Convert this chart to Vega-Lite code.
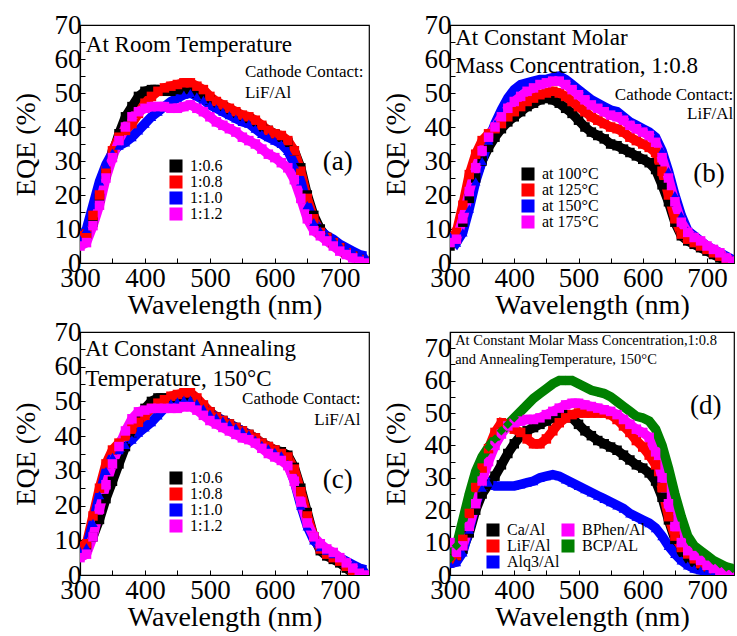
{
"$schema":"https://vega.github.io/schema/vega-lite/v6.json",
"background":"white",
"padding":{"left":11,"top":10,"right":0,"bottom":0},
"datasets":{"d":[
{"p":"a","s":"1:0.6","x":300,"y":8},{"p":"a","s":"1:0.6","x":310,"y":8.5},{"p":"a","s":"1:0.6","x":320,"y":12},{"p":"a","s":"1:0.6","x":330,"y":19},{"p":"a","s":"1:0.6","x":340,"y":26},{"p":"a","s":"1:0.6","x":350,"y":32},{"p":"a","s":"1:0.6","x":360,"y":38},{"p":"a","s":"1:0.6","x":370,"y":43},{"p":"a","s":"1:0.6","x":380,"y":46},{"p":"a","s":"1:0.6","x":390,"y":49},{"p":"a","s":"1:0.6","x":400,"y":50.5},{"p":"a","s":"1:0.6","x":410,"y":51},{"p":"a","s":"1:0.6","x":420,"y":51},{"p":"a","s":"1:0.6","x":430,"y":50.5},{"p":"a","s":"1:0.6","x":440,"y":50.5},{"p":"a","s":"1:0.6","x":450,"y":51},{"p":"a","s":"1:0.6","x":460,"y":51},{"p":"a","s":"1:0.6","x":470,"y":51.5},{"p":"a","s":"1:0.6","x":480,"y":50},{"p":"a","s":"1:0.6","x":490,"y":49},{"p":"a","s":"1:0.6","x":500,"y":48},{"p":"a","s":"1:0.6","x":510,"y":47},{"p":"a","s":"1:0.6","x":520,"y":46},{"p":"a","s":"1:0.6","x":530,"y":45},{"p":"a","s":"1:0.6","x":540,"y":44},{"p":"a","s":"1:0.6","x":550,"y":43},{"p":"a","s":"1:0.6","x":560,"y":42.5},{"p":"a","s":"1:0.6","x":570,"y":41.5},{"p":"a","s":"1:0.6","x":580,"y":40},{"p":"a","s":"1:0.6","x":590,"y":39},{"p":"a","s":"1:0.6","x":600,"y":38},{"p":"a","s":"1:0.6","x":610,"y":37},{"p":"a","s":"1:0.6","x":620,"y":35.5},{"p":"a","s":"1:0.6","x":630,"y":33},{"p":"a","s":"1:0.6","x":640,"y":28},{"p":"a","s":"1:0.6","x":650,"y":20},{"p":"a","s":"1:0.6","x":660,"y":14},{"p":"a","s":"1:0.6","x":670,"y":10},{"p":"a","s":"1:0.6","x":680,"y":7.5},{"p":"a","s":"1:0.6","x":690,"y":6},{"p":"a","s":"1:0.6","x":700,"y":4.5},{"p":"a","s":"1:0.6","x":710,"y":3},{"p":"a","s":"1:0.6","x":720,"y":2},{"p":"a","s":"1:0.6","x":730,"y":1},{"p":"a","s":"1:0.6","x":740,"y":0.5},
{"p":"a","s":"1:0.8","x":300,"y":8},{"p":"a","s":"1:0.8","x":310,"y":8.5},{"p":"a","s":"1:0.8","x":320,"y":14},{"p":"a","s":"1:0.8","x":330,"y":20},{"p":"a","s":"1:0.8","x":340,"y":27},{"p":"a","s":"1:0.8","x":350,"y":33},{"p":"a","s":"1:0.8","x":360,"y":37},{"p":"a","s":"1:0.8","x":370,"y":39},{"p":"a","s":"1:0.8","x":380,"y":41},{"p":"a","s":"1:0.8","x":390,"y":44},{"p":"a","s":"1:0.8","x":400,"y":47},{"p":"a","s":"1:0.8","x":410,"y":49},{"p":"a","s":"1:0.8","x":420,"y":50.5},{"p":"a","s":"1:0.8","x":430,"y":51.5},{"p":"a","s":"1:0.8","x":440,"y":52},{"p":"a","s":"1:0.8","x":450,"y":52.5},{"p":"a","s":"1:0.8","x":460,"y":53},{"p":"a","s":"1:0.8","x":470,"y":53},{"p":"a","s":"1:0.8","x":480,"y":52},{"p":"a","s":"1:0.8","x":490,"y":51},{"p":"a","s":"1:0.8","x":500,"y":49},{"p":"a","s":"1:0.8","x":510,"y":47.5},{"p":"a","s":"1:0.8","x":520,"y":46.5},{"p":"a","s":"1:0.8","x":530,"y":45.5},{"p":"a","s":"1:0.8","x":540,"y":44.5},{"p":"a","s":"1:0.8","x":550,"y":43.5},{"p":"a","s":"1:0.8","x":560,"y":43},{"p":"a","s":"1:0.8","x":570,"y":42},{"p":"a","s":"1:0.8","x":580,"y":40.5},{"p":"a","s":"1:0.8","x":590,"y":39},{"p":"a","s":"1:0.8","x":600,"y":38},{"p":"a","s":"1:0.8","x":610,"y":37.5},{"p":"a","s":"1:0.8","x":620,"y":36},{"p":"a","s":"1:0.8","x":630,"y":33},{"p":"a","s":"1:0.8","x":640,"y":27},{"p":"a","s":"1:0.8","x":650,"y":19},{"p":"a","s":"1:0.8","x":660,"y":13},{"p":"a","s":"1:0.8","x":670,"y":9},{"p":"a","s":"1:0.8","x":680,"y":7.5},{"p":"a","s":"1:0.8","x":690,"y":6},{"p":"a","s":"1:0.8","x":700,"y":4.5},{"p":"a","s":"1:0.8","x":710,"y":3},{"p":"a","s":"1:0.8","x":720,"y":2},{"p":"a","s":"1:0.8","x":730,"y":1},{"p":"a","s":"1:0.8","x":740,"y":0.5},
{"p":"a","s":"1:1.0","x":300,"y":7},{"p":"a","s":"1:1.0","x":310,"y":10},{"p":"a","s":"1:1.0","x":320,"y":17},{"p":"a","s":"1:1.0","x":330,"y":24},{"p":"a","s":"1:1.0","x":340,"y":29},{"p":"a","s":"1:1.0","x":350,"y":32.5},{"p":"a","s":"1:1.0","x":360,"y":34.5},{"p":"a","s":"1:1.0","x":370,"y":35.5},{"p":"a","s":"1:1.0","x":380,"y":37},{"p":"a","s":"1:1.0","x":390,"y":39},{"p":"a","s":"1:1.0","x":400,"y":41},{"p":"a","s":"1:1.0","x":410,"y":43},{"p":"a","s":"1:1.0","x":420,"y":44.5},{"p":"a","s":"1:1.0","x":430,"y":46},{"p":"a","s":"1:1.0","x":440,"y":47.5},{"p":"a","s":"1:1.0","x":450,"y":48.5},{"p":"a","s":"1:1.0","x":460,"y":49.5},{"p":"a","s":"1:1.0","x":470,"y":50},{"p":"a","s":"1:1.0","x":480,"y":49},{"p":"a","s":"1:1.0","x":490,"y":48},{"p":"a","s":"1:1.0","x":500,"y":46.5},{"p":"a","s":"1:1.0","x":510,"y":45.5},{"p":"a","s":"1:1.0","x":520,"y":44.5},{"p":"a","s":"1:1.0","x":530,"y":43.5},{"p":"a","s":"1:1.0","x":540,"y":42.5},{"p":"a","s":"1:1.0","x":550,"y":41.5},{"p":"a","s":"1:1.0","x":560,"y":41},{"p":"a","s":"1:1.0","x":570,"y":39.5},{"p":"a","s":"1:1.0","x":580,"y":38},{"p":"a","s":"1:1.0","x":590,"y":37},{"p":"a","s":"1:1.0","x":600,"y":36},{"p":"a","s":"1:1.0","x":610,"y":35},{"p":"a","s":"1:1.0","x":620,"y":33},{"p":"a","s":"1:1.0","x":630,"y":29},{"p":"a","s":"1:1.0","x":640,"y":24},{"p":"a","s":"1:1.0","x":650,"y":17},{"p":"a","s":"1:1.0","x":660,"y":12},{"p":"a","s":"1:1.0","x":670,"y":9.5},{"p":"a","s":"1:1.0","x":680,"y":8},{"p":"a","s":"1:1.0","x":690,"y":7},{"p":"a","s":"1:1.0","x":700,"y":5.5},{"p":"a","s":"1:1.0","x":710,"y":4.5},{"p":"a","s":"1:1.0","x":720,"y":3.5},{"p":"a","s":"1:1.0","x":730,"y":2.5},{"p":"a","s":"1:1.0","x":740,"y":2},
{"p":"a","s":"1:1.2","x":300,"y":5},{"p":"a","s":"1:1.2","x":310,"y":6},{"p":"a","s":"1:1.2","x":320,"y":11},{"p":"a","s":"1:1.2","x":330,"y":17},{"p":"a","s":"1:1.2","x":340,"y":25},{"p":"a","s":"1:1.2","x":350,"y":31},{"p":"a","s":"1:1.2","x":360,"y":36},{"p":"a","s":"1:1.2","x":370,"y":40},{"p":"a","s":"1:1.2","x":380,"y":43},{"p":"a","s":"1:1.2","x":390,"y":44.5},{"p":"a","s":"1:1.2","x":400,"y":45.5},{"p":"a","s":"1:1.2","x":410,"y":46},{"p":"a","s":"1:1.2","x":420,"y":46},{"p":"a","s":"1:1.2","x":430,"y":46},{"p":"a","s":"1:1.2","x":440,"y":45.5},{"p":"a","s":"1:1.2","x":450,"y":45.5},{"p":"a","s":"1:1.2","x":460,"y":46},{"p":"a","s":"1:1.2","x":470,"y":46.5},{"p":"a","s":"1:1.2","x":480,"y":45.5},{"p":"a","s":"1:1.2","x":490,"y":44.5},{"p":"a","s":"1:1.2","x":500,"y":43},{"p":"a","s":"1:1.2","x":510,"y":41.5},{"p":"a","s":"1:1.2","x":520,"y":40.5},{"p":"a","s":"1:1.2","x":530,"y":39.5},{"p":"a","s":"1:1.2","x":540,"y":38.5},{"p":"a","s":"1:1.2","x":550,"y":37},{"p":"a","s":"1:1.2","x":560,"y":36},{"p":"a","s":"1:1.2","x":570,"y":35},{"p":"a","s":"1:1.2","x":580,"y":33.5},{"p":"a","s":"1:1.2","x":590,"y":32},{"p":"a","s":"1:1.2","x":600,"y":31},{"p":"a","s":"1:1.2","x":610,"y":29.5},{"p":"a","s":"1:1.2","x":620,"y":28},{"p":"a","s":"1:1.2","x":630,"y":24.5},{"p":"a","s":"1:1.2","x":640,"y":19},{"p":"a","s":"1:1.2","x":650,"y":13},{"p":"a","s":"1:1.2","x":660,"y":9.5},{"p":"a","s":"1:1.2","x":670,"y":8},{"p":"a","s":"1:1.2","x":680,"y":6.5},{"p":"a","s":"1:1.2","x":690,"y":5},{"p":"a","s":"1:1.2","x":700,"y":3.5},{"p":"a","s":"1:1.2","x":710,"y":2.5},{"p":"a","s":"1:1.2","x":720,"y":1.5},{"p":"a","s":"1:1.2","x":730,"y":0.5},{"p":"a","s":"1:1.2","x":740,"y":0},
{"p":"b","s":"at 100°C","x":300,"y":5},{"p":"b","s":"at 100°C","x":310,"y":7},{"p":"b","s":"at 100°C","x":320,"y":12},{"p":"b","s":"at 100°C","x":330,"y":19},{"p":"b","s":"at 100°C","x":340,"y":25},{"p":"b","s":"at 100°C","x":350,"y":30},{"p":"b","s":"at 100°C","x":360,"y":34},{"p":"b","s":"at 100°C","x":370,"y":37},{"p":"b","s":"at 100°C","x":380,"y":39.5},{"p":"b","s":"at 100°C","x":390,"y":41.5},{"p":"b","s":"at 100°C","x":400,"y":43},{"p":"b","s":"at 100°C","x":410,"y":44.5},{"p":"b","s":"at 100°C","x":420,"y":46},{"p":"b","s":"at 100°C","x":430,"y":47},{"p":"b","s":"at 100°C","x":440,"y":48},{"p":"b","s":"at 100°C","x":450,"y":48.5},{"p":"b","s":"at 100°C","x":460,"y":48},{"p":"b","s":"at 100°C","x":470,"y":47},{"p":"b","s":"at 100°C","x":480,"y":45.5},{"p":"b","s":"at 100°C","x":490,"y":44},{"p":"b","s":"at 100°C","x":500,"y":42},{"p":"b","s":"at 100°C","x":510,"y":40},{"p":"b","s":"at 100°C","x":520,"y":38.5},{"p":"b","s":"at 100°C","x":530,"y":37.5},{"p":"b","s":"at 100°C","x":540,"y":36.5},{"p":"b","s":"at 100°C","x":550,"y":35},{"p":"b","s":"at 100°C","x":560,"y":34.5},{"p":"b","s":"at 100°C","x":570,"y":33.5},{"p":"b","s":"at 100°C","x":580,"y":32.5},{"p":"b","s":"at 100°C","x":590,"y":31.5},{"p":"b","s":"at 100°C","x":600,"y":30.5},{"p":"b","s":"at 100°C","x":610,"y":29.5},{"p":"b","s":"at 100°C","x":620,"y":27.5},{"p":"b","s":"at 100°C","x":630,"y":23},{"p":"b","s":"at 100°C","x":640,"y":18},{"p":"b","s":"at 100°C","x":650,"y":12},{"p":"b","s":"at 100°C","x":660,"y":8},{"p":"b","s":"at 100°C","x":670,"y":6.5},{"p":"b","s":"at 100°C","x":680,"y":5.5},{"p":"b","s":"at 100°C","x":690,"y":4.5},{"p":"b","s":"at 100°C","x":700,"y":3.5},{"p":"b","s":"at 100°C","x":710,"y":2.5},{"p":"b","s":"at 100°C","x":720,"y":1.5},{"p":"b","s":"at 100°C","x":730,"y":0.5},{"p":"b","s":"at 100°C","x":740,"y":0},
{"p":"b","s":"at 125°C","x":300,"y":7},{"p":"b","s":"at 125°C","x":310,"y":9},{"p":"b","s":"at 125°C","x":320,"y":17},{"p":"b","s":"at 125°C","x":330,"y":26},{"p":"b","s":"at 125°C","x":340,"y":32},{"p":"b","s":"at 125°C","x":350,"y":36},{"p":"b","s":"at 125°C","x":360,"y":38},{"p":"b","s":"at 125°C","x":370,"y":39.5},{"p":"b","s":"at 125°C","x":380,"y":41},{"p":"b","s":"at 125°C","x":390,"y":43},{"p":"b","s":"at 125°C","x":400,"y":44.5},{"p":"b","s":"at 125°C","x":410,"y":46},{"p":"b","s":"at 125°C","x":420,"y":47.5},{"p":"b","s":"at 125°C","x":430,"y":48.5},{"p":"b","s":"at 125°C","x":440,"y":49.5},{"p":"b","s":"at 125°C","x":450,"y":50},{"p":"b","s":"at 125°C","x":460,"y":50.5},{"p":"b","s":"at 125°C","x":470,"y":50},{"p":"b","s":"at 125°C","x":480,"y":49},{"p":"b","s":"at 125°C","x":490,"y":47.5},{"p":"b","s":"at 125°C","x":500,"y":46},{"p":"b","s":"at 125°C","x":510,"y":44.5},{"p":"b","s":"at 125°C","x":520,"y":43},{"p":"b","s":"at 125°C","x":530,"y":42},{"p":"b","s":"at 125°C","x":540,"y":41},{"p":"b","s":"at 125°C","x":550,"y":40},{"p":"b","s":"at 125°C","x":560,"y":39.5},{"p":"b","s":"at 125°C","x":570,"y":38.5},{"p":"b","s":"at 125°C","x":580,"y":37},{"p":"b","s":"at 125°C","x":590,"y":36},{"p":"b","s":"at 125°C","x":600,"y":35},{"p":"b","s":"at 125°C","x":610,"y":34},{"p":"b","s":"at 125°C","x":620,"y":32.5},{"p":"b","s":"at 125°C","x":630,"y":27},{"p":"b","s":"at 125°C","x":640,"y":20},{"p":"b","s":"at 125°C","x":650,"y":13},{"p":"b","s":"at 125°C","x":660,"y":8.5},{"p":"b","s":"at 125°C","x":670,"y":7},{"p":"b","s":"at 125°C","x":680,"y":6},{"p":"b","s":"at 125°C","x":690,"y":5},{"p":"b","s":"at 125°C","x":700,"y":4},{"p":"b","s":"at 125°C","x":710,"y":3},{"p":"b","s":"at 125°C","x":720,"y":2},{"p":"b","s":"at 125°C","x":730,"y":1},{"p":"b","s":"at 125°C","x":740,"y":0.5},
{"p":"b","s":"at 150°C","x":300,"y":8},{"p":"b","s":"at 150°C","x":310,"y":6},{"p":"b","s":"at 150°C","x":320,"y":9},{"p":"b","s":"at 150°C","x":330,"y":16},{"p":"b","s":"at 150°C","x":340,"y":24},{"p":"b","s":"at 150°C","x":350,"y":30},{"p":"b","s":"at 150°C","x":360,"y":36},{"p":"b","s":"at 150°C","x":370,"y":41},{"p":"b","s":"at 150°C","x":380,"y":45},{"p":"b","s":"at 150°C","x":390,"y":48.5},{"p":"b","s":"at 150°C","x":400,"y":51},{"p":"b","s":"at 150°C","x":410,"y":52.5},{"p":"b","s":"at 150°C","x":420,"y":53},{"p":"b","s":"at 150°C","x":430,"y":53.5},{"p":"b","s":"at 150°C","x":440,"y":54},{"p":"b","s":"at 150°C","x":450,"y":54},{"p":"b","s":"at 150°C","x":460,"y":54.5},{"p":"b","s":"at 150°C","x":470,"y":55},{"p":"b","s":"at 150°C","x":480,"y":54},{"p":"b","s":"at 150°C","x":490,"y":52.5},{"p":"b","s":"at 150°C","x":500,"y":51},{"p":"b","s":"at 150°C","x":510,"y":49.5},{"p":"b","s":"at 150°C","x":520,"y":48},{"p":"b","s":"at 150°C","x":530,"y":47},{"p":"b","s":"at 150°C","x":540,"y":46},{"p":"b","s":"at 150°C","x":550,"y":45},{"p":"b","s":"at 150°C","x":560,"y":44.5},{"p":"b","s":"at 150°C","x":570,"y":43},{"p":"b","s":"at 150°C","x":580,"y":41.5},{"p":"b","s":"at 150°C","x":590,"y":40.5},{"p":"b","s":"at 150°C","x":600,"y":39.5},{"p":"b","s":"at 150°C","x":610,"y":38.5},{"p":"b","s":"at 150°C","x":620,"y":37},{"p":"b","s":"at 150°C","x":630,"y":33},{"p":"b","s":"at 150°C","x":640,"y":27},{"p":"b","s":"at 150°C","x":650,"y":20},{"p":"b","s":"at 150°C","x":660,"y":14},{"p":"b","s":"at 150°C","x":670,"y":9.5},{"p":"b","s":"at 150°C","x":680,"y":8},{"p":"b","s":"at 150°C","x":690,"y":6.5},{"p":"b","s":"at 150°C","x":700,"y":5},{"p":"b","s":"at 150°C","x":710,"y":4},{"p":"b","s":"at 150°C","x":720,"y":3},{"p":"b","s":"at 150°C","x":730,"y":2},{"p":"b","s":"at 150°C","x":740,"y":1},
{"p":"b","s":"at 175°C","x":300,"y":6},{"p":"b","s":"at 175°C","x":310,"y":7},{"p":"b","s":"at 175°C","x":320,"y":13},{"p":"b","s":"at 175°C","x":330,"y":21},{"p":"b","s":"at 175°C","x":340,"y":28},{"p":"b","s":"at 175°C","x":350,"y":33},{"p":"b","s":"at 175°C","x":360,"y":37},{"p":"b","s":"at 175°C","x":370,"y":40},{"p":"b","s":"at 175°C","x":380,"y":43},{"p":"b","s":"at 175°C","x":390,"y":45.5},{"p":"b","s":"at 175°C","x":400,"y":47.5},{"p":"b","s":"at 175°C","x":410,"y":49},{"p":"b","s":"at 175°C","x":420,"y":50.5},{"p":"b","s":"at 175°C","x":430,"y":51.5},{"p":"b","s":"at 175°C","x":440,"y":52.5},{"p":"b","s":"at 175°C","x":450,"y":53},{"p":"b","s":"at 175°C","x":460,"y":53.5},{"p":"b","s":"at 175°C","x":470,"y":53.5},{"p":"b","s":"at 175°C","x":480,"y":52.5},{"p":"b","s":"at 175°C","x":490,"y":51},{"p":"b","s":"at 175°C","x":500,"y":49.5},{"p":"b","s":"at 175°C","x":510,"y":48},{"p":"b","s":"at 175°C","x":520,"y":46.5},{"p":"b","s":"at 175°C","x":530,"y":45.5},{"p":"b","s":"at 175°C","x":540,"y":44.5},{"p":"b","s":"at 175°C","x":550,"y":43.5},{"p":"b","s":"at 175°C","x":560,"y":43},{"p":"b","s":"at 175°C","x":570,"y":42},{"p":"b","s":"at 175°C","x":580,"y":40.5},{"p":"b","s":"at 175°C","x":590,"y":39.5},{"p":"b","s":"at 175°C","x":600,"y":38.5},{"p":"b","s":"at 175°C","x":610,"y":37.5},{"p":"b","s":"at 175°C","x":620,"y":35.5},{"p":"b","s":"at 175°C","x":630,"y":31},{"p":"b","s":"at 175°C","x":640,"y":25},{"p":"b","s":"at 175°C","x":650,"y":18},{"p":"b","s":"at 175°C","x":660,"y":12},{"p":"b","s":"at 175°C","x":670,"y":9},{"p":"b","s":"at 175°C","x":680,"y":7.5},{"p":"b","s":"at 175°C","x":690,"y":6.5},{"p":"b","s":"at 175°C","x":700,"y":5},{"p":"b","s":"at 175°C","x":710,"y":4},{"p":"b","s":"at 175°C","x":720,"y":3},{"p":"b","s":"at 175°C","x":730,"y":1.5},{"p":"b","s":"at 175°C","x":740,"y":0.5},
{"p":"c","s":"1:0.6","x":300,"y":7},{"p":"c","s":"1:0.6","x":310,"y":8},{"p":"c","s":"1:0.6","x":320,"y":11},{"p":"c","s":"1:0.6","x":330,"y":16},{"p":"c","s":"1:0.6","x":340,"y":22},{"p":"c","s":"1:0.6","x":350,"y":27},{"p":"c","s":"1:0.6","x":360,"y":32},{"p":"c","s":"1:0.6","x":370,"y":37},{"p":"c","s":"1:0.6","x":380,"y":41},{"p":"c","s":"1:0.6","x":390,"y":45},{"p":"c","s":"1:0.6","x":400,"y":48},{"p":"c","s":"1:0.6","x":410,"y":50},{"p":"c","s":"1:0.6","x":420,"y":51},{"p":"c","s":"1:0.6","x":430,"y":51},{"p":"c","s":"1:0.6","x":440,"y":51},{"p":"c","s":"1:0.6","x":450,"y":51.5},{"p":"c","s":"1:0.6","x":460,"y":51.5},{"p":"c","s":"1:0.6","x":470,"y":51.5},{"p":"c","s":"1:0.6","x":480,"y":50},{"p":"c","s":"1:0.6","x":490,"y":48.5},{"p":"c","s":"1:0.6","x":500,"y":47},{"p":"c","s":"1:0.6","x":510,"y":45.5},{"p":"c","s":"1:0.6","x":520,"y":44.5},{"p":"c","s":"1:0.6","x":530,"y":43.5},{"p":"c","s":"1:0.6","x":540,"y":42.5},{"p":"c","s":"1:0.6","x":550,"y":41.5},{"p":"c","s":"1:0.6","x":560,"y":40.5},{"p":"c","s":"1:0.6","x":570,"y":39.5},{"p":"c","s":"1:0.6","x":580,"y":38},{"p":"c","s":"1:0.6","x":590,"y":37},{"p":"c","s":"1:0.6","x":600,"y":36},{"p":"c","s":"1:0.6","x":610,"y":35.5},{"p":"c","s":"1:0.6","x":620,"y":34.5},{"p":"c","s":"1:0.6","x":630,"y":31},{"p":"c","s":"1:0.6","x":640,"y":25},{"p":"c","s":"1:0.6","x":650,"y":18},{"p":"c","s":"1:0.6","x":660,"y":11},{"p":"c","s":"1:0.6","x":670,"y":7},{"p":"c","s":"1:0.6","x":680,"y":5.5},{"p":"c","s":"1:0.6","x":690,"y":4.5},{"p":"c","s":"1:0.6","x":700,"y":3.5},{"p":"c","s":"1:0.6","x":710,"y":2},{"p":"c","s":"1:0.6","x":720,"y":0.5},{"p":"c","s":"1:0.6","x":730,"y":0},{"p":"c","s":"1:0.6","x":740,"y":0},
{"p":"c","s":"1:0.8","x":300,"y":8},{"p":"c","s":"1:0.8","x":310,"y":9},{"p":"c","s":"1:0.8","x":320,"y":17},{"p":"c","s":"1:0.8","x":330,"y":25},{"p":"c","s":"1:0.8","x":340,"y":32},{"p":"c","s":"1:0.8","x":350,"y":36},{"p":"c","s":"1:0.8","x":360,"y":38},{"p":"c","s":"1:0.8","x":370,"y":40},{"p":"c","s":"1:0.8","x":380,"y":42},{"p":"c","s":"1:0.8","x":390,"y":44},{"p":"c","s":"1:0.8","x":400,"y":46},{"p":"c","s":"1:0.8","x":410,"y":48},{"p":"c","s":"1:0.8","x":420,"y":49.5},{"p":"c","s":"1:0.8","x":430,"y":50.5},{"p":"c","s":"1:0.8","x":440,"y":51.5},{"p":"c","s":"1:0.8","x":450,"y":52},{"p":"c","s":"1:0.8","x":460,"y":52.5},{"p":"c","s":"1:0.8","x":470,"y":52.5},{"p":"c","s":"1:0.8","x":480,"y":51},{"p":"c","s":"1:0.8","x":490,"y":49},{"p":"c","s":"1:0.8","x":500,"y":47},{"p":"c","s":"1:0.8","x":510,"y":45.5},{"p":"c","s":"1:0.8","x":520,"y":44.5},{"p":"c","s":"1:0.8","x":530,"y":43.5},{"p":"c","s":"1:0.8","x":540,"y":42.5},{"p":"c","s":"1:0.8","x":550,"y":41.5},{"p":"c","s":"1:0.8","x":560,"y":40.5},{"p":"c","s":"1:0.8","x":570,"y":39.5},{"p":"c","s":"1:0.8","x":580,"y":38},{"p":"c","s":"1:0.8","x":590,"y":37},{"p":"c","s":"1:0.8","x":600,"y":36},{"p":"c","s":"1:0.8","x":610,"y":35},{"p":"c","s":"1:0.8","x":620,"y":34},{"p":"c","s":"1:0.8","x":630,"y":30.5},{"p":"c","s":"1:0.8","x":640,"y":24},{"p":"c","s":"1:0.8","x":650,"y":17},{"p":"c","s":"1:0.8","x":660,"y":11},{"p":"c","s":"1:0.8","x":670,"y":7.5},{"p":"c","s":"1:0.8","x":680,"y":6},{"p":"c","s":"1:0.8","x":690,"y":5},{"p":"c","s":"1:0.8","x":700,"y":4},{"p":"c","s":"1:0.8","x":710,"y":2.5},{"p":"c","s":"1:0.8","x":720,"y":1},{"p":"c","s":"1:0.8","x":730,"y":0.5},{"p":"c","s":"1:0.8","x":740,"y":0},
{"p":"c","s":"1:1.0","x":300,"y":7},{"p":"c","s":"1:1.0","x":310,"y":8},{"p":"c","s":"1:1.0","x":320,"y":15},{"p":"c","s":"1:1.0","x":330,"y":23},{"p":"c","s":"1:1.0","x":340,"y":30},{"p":"c","s":"1:1.0","x":350,"y":34},{"p":"c","s":"1:1.0","x":360,"y":36},{"p":"c","s":"1:1.0","x":370,"y":37.5},{"p":"c","s":"1:1.0","x":380,"y":39},{"p":"c","s":"1:1.0","x":390,"y":41},{"p":"c","s":"1:1.0","x":400,"y":42.5},{"p":"c","s":"1:1.0","x":410,"y":44},{"p":"c","s":"1:1.0","x":420,"y":46},{"p":"c","s":"1:1.0","x":430,"y":48},{"p":"c","s":"1:1.0","x":440,"y":49.5},{"p":"c","s":"1:1.0","x":450,"y":50},{"p":"c","s":"1:1.0","x":460,"y":50.5},{"p":"c","s":"1:1.0","x":470,"y":50.5},{"p":"c","s":"1:1.0","x":480,"y":49.5},{"p":"c","s":"1:1.0","x":490,"y":48},{"p":"c","s":"1:1.0","x":500,"y":46.5},{"p":"c","s":"1:1.0","x":510,"y":45.5},{"p":"c","s":"1:1.0","x":520,"y":44.5},{"p":"c","s":"1:1.0","x":530,"y":43.5},{"p":"c","s":"1:1.0","x":540,"y":42.5},{"p":"c","s":"1:1.0","x":550,"y":41.5},{"p":"c","s":"1:1.0","x":560,"y":40.5},{"p":"c","s":"1:1.0","x":570,"y":39},{"p":"c","s":"1:1.0","x":580,"y":37.5},{"p":"c","s":"1:1.0","x":590,"y":36.5},{"p":"c","s":"1:1.0","x":600,"y":35.5},{"p":"c","s":"1:1.0","x":610,"y":34.5},{"p":"c","s":"1:1.0","x":620,"y":32},{"p":"c","s":"1:1.0","x":630,"y":27},{"p":"c","s":"1:1.0","x":640,"y":20},{"p":"c","s":"1:1.0","x":650,"y":14},{"p":"c","s":"1:1.0","x":660,"y":10},{"p":"c","s":"1:1.0","x":670,"y":8},{"p":"c","s":"1:1.0","x":680,"y":7},{"p":"c","s":"1:1.0","x":690,"y":6},{"p":"c","s":"1:1.0","x":700,"y":5},{"p":"c","s":"1:1.0","x":710,"y":4},{"p":"c","s":"1:1.0","x":720,"y":3},{"p":"c","s":"1:1.0","x":730,"y":2},{"p":"c","s":"1:1.0","x":740,"y":1.5},
{"p":"c","s":"1:1.2","x":300,"y":5},{"p":"c","s":"1:1.2","x":310,"y":6},{"p":"c","s":"1:1.2","x":320,"y":11},{"p":"c","s":"1:1.2","x":330,"y":19},{"p":"c","s":"1:1.2","x":340,"y":26},{"p":"c","s":"1:1.2","x":350,"y":32},{"p":"c","s":"1:1.2","x":360,"y":37},{"p":"c","s":"1:1.2","x":370,"y":41.5},{"p":"c","s":"1:1.2","x":380,"y":45},{"p":"c","s":"1:1.2","x":390,"y":47},{"p":"c","s":"1:1.2","x":400,"y":47.5},{"p":"c","s":"1:1.2","x":410,"y":48},{"p":"c","s":"1:1.2","x":420,"y":48},{"p":"c","s":"1:1.2","x":430,"y":48},{"p":"c","s":"1:1.2","x":440,"y":48},{"p":"c","s":"1:1.2","x":450,"y":48},{"p":"c","s":"1:1.2","x":460,"y":48.5},{"p":"c","s":"1:1.2","x":470,"y":48.5},{"p":"c","s":"1:1.2","x":480,"y":47.5},{"p":"c","s":"1:1.2","x":490,"y":46},{"p":"c","s":"1:1.2","x":500,"y":44.5},{"p":"c","s":"1:1.2","x":510,"y":43.5},{"p":"c","s":"1:1.2","x":520,"y":42.5},{"p":"c","s":"1:1.2","x":530,"y":41.5},{"p":"c","s":"1:1.2","x":540,"y":40.5},{"p":"c","s":"1:1.2","x":550,"y":39.5},{"p":"c","s":"1:1.2","x":560,"y":39},{"p":"c","s":"1:1.2","x":570,"y":38},{"p":"c","s":"1:1.2","x":580,"y":36.5},{"p":"c","s":"1:1.2","x":590,"y":35},{"p":"c","s":"1:1.2","x":600,"y":34},{"p":"c","s":"1:1.2","x":610,"y":33},{"p":"c","s":"1:1.2","x":620,"y":31.5},{"p":"c","s":"1:1.2","x":630,"y":27},{"p":"c","s":"1:1.2","x":640,"y":21},{"p":"c","s":"1:1.2","x":650,"y":15},{"p":"c","s":"1:1.2","x":660,"y":11},{"p":"c","s":"1:1.2","x":670,"y":9},{"p":"c","s":"1:1.2","x":680,"y":7.5},{"p":"c","s":"1:1.2","x":690,"y":6.5},{"p":"c","s":"1:1.2","x":700,"y":5},{"p":"c","s":"1:1.2","x":710,"y":3.5},{"p":"c","s":"1:1.2","x":720,"y":2},{"p":"c","s":"1:1.2","x":730,"y":0.5},{"p":"c","s":"1:1.2","x":740,"y":0},
{"p":"d","s":"Ca/Al","x":300,"y":5},{"p":"d","s":"Ca/Al","x":310,"y":6},{"p":"d","s":"Ca/Al","x":320,"y":8},{"p":"d","s":"Ca/Al","x":330,"y":13},{"p":"d","s":"Ca/Al","x":340,"y":20},{"p":"d","s":"Ca/Al","x":350,"y":25},{"p":"d","s":"Ca/Al","x":360,"y":28},{"p":"d","s":"Ca/Al","x":370,"y":30.5},{"p":"d","s":"Ca/Al","x":380,"y":34},{"p":"d","s":"Ca/Al","x":390,"y":37.5},{"p":"d","s":"Ca/Al","x":400,"y":40.5},{"p":"d","s":"Ca/Al","x":410,"y":43},{"p":"d","s":"Ca/Al","x":420,"y":44.5},{"p":"d","s":"Ca/Al","x":430,"y":45.5},{"p":"d","s":"Ca/Al","x":440,"y":46.5},{"p":"d","s":"Ca/Al","x":450,"y":47.5},{"p":"d","s":"Ca/Al","x":460,"y":48.5},{"p":"d","s":"Ca/Al","x":470,"y":49},{"p":"d","s":"Ca/Al","x":480,"y":49.5},{"p":"d","s":"Ca/Al","x":490,"y":48.5},{"p":"d","s":"Ca/Al","x":500,"y":46.5},{"p":"d","s":"Ca/Al","x":510,"y":44.5},{"p":"d","s":"Ca/Al","x":520,"y":43},{"p":"d","s":"Ca/Al","x":530,"y":41.5},{"p":"d","s":"Ca/Al","x":540,"y":40.5},{"p":"d","s":"Ca/Al","x":550,"y":39.5},{"p":"d","s":"Ca/Al","x":560,"y":38.5},{"p":"d","s":"Ca/Al","x":570,"y":37},{"p":"d","s":"Ca/Al","x":580,"y":35.5},{"p":"d","s":"Ca/Al","x":590,"y":34},{"p":"d","s":"Ca/Al","x":600,"y":33},{"p":"d","s":"Ca/Al","x":610,"y":31.5},{"p":"d","s":"Ca/Al","x":620,"y":29},{"p":"d","s":"Ca/Al","x":630,"y":24},{"p":"d","s":"Ca/Al","x":640,"y":17},{"p":"d","s":"Ca/Al","x":650,"y":11},{"p":"d","s":"Ca/Al","x":660,"y":7},{"p":"d","s":"Ca/Al","x":670,"y":5},{"p":"d","s":"Ca/Al","x":680,"y":4},{"p":"d","s":"Ca/Al","x":690,"y":3},{"p":"d","s":"Ca/Al","x":700,"y":2},{"p":"d","s":"Ca/Al","x":710,"y":1},{"p":"d","s":"Ca/Al","x":720,"y":0.5},{"p":"d","s":"Ca/Al","x":730,"y":0},{"p":"d","s":"Ca/Al","x":740,"y":0},
{"p":"d","s":"LiF/Al","x":300,"y":4},{"p":"d","s":"LiF/Al","x":310,"y":6},{"p":"d","s":"LiF/Al","x":320,"y":11},{"p":"d","s":"LiF/Al","x":330,"y":19},{"p":"d","s":"LiF/Al","x":340,"y":27},{"p":"d","s":"LiF/Al","x":350,"y":33},{"p":"d","s":"LiF/Al","x":360,"y":39},{"p":"d","s":"LiF/Al","x":370,"y":44},{"p":"d","s":"LiF/Al","x":380,"y":47},{"p":"d","s":"LiF/Al","x":390,"y":46.5},{"p":"d","s":"LiF/Al","x":400,"y":45},{"p":"d","s":"LiF/Al","x":410,"y":44},{"p":"d","s":"LiF/Al","x":420,"y":42},{"p":"d","s":"LiF/Al","x":430,"y":40.5},{"p":"d","s":"LiF/Al","x":440,"y":40.5},{"p":"d","s":"LiF/Al","x":450,"y":42},{"p":"d","s":"LiF/Al","x":460,"y":44.5},{"p":"d","s":"LiF/Al","x":470,"y":47},{"p":"d","s":"LiF/Al","x":480,"y":48.5},{"p":"d","s":"LiF/Al","x":490,"y":49.5},{"p":"d","s":"LiF/Al","x":500,"y":50},{"p":"d","s":"LiF/Al","x":510,"y":50},{"p":"d","s":"LiF/Al","x":520,"y":50},{"p":"d","s":"LiF/Al","x":530,"y":50},{"p":"d","s":"LiF/Al","x":540,"y":50},{"p":"d","s":"LiF/Al","x":550,"y":49.5},{"p":"d","s":"LiF/Al","x":560,"y":48},{"p":"d","s":"LiF/Al","x":570,"y":46},{"p":"d","s":"LiF/Al","x":580,"y":44},{"p":"d","s":"LiF/Al","x":590,"y":41.5},{"p":"d","s":"LiF/Al","x":600,"y":39.5},{"p":"d","s":"LiF/Al","x":610,"y":37},{"p":"d","s":"LiF/Al","x":620,"y":34},{"p":"d","s":"LiF/Al","x":630,"y":27},{"p":"d","s":"LiF/Al","x":640,"y":18},{"p":"d","s":"LiF/Al","x":650,"y":12},{"p":"d","s":"LiF/Al","x":660,"y":8.5},{"p":"d","s":"LiF/Al","x":670,"y":6.5},{"p":"d","s":"LiF/Al","x":680,"y":5},{"p":"d","s":"LiF/Al","x":690,"y":3.5},{"p":"d","s":"LiF/Al","x":700,"y":2.5},{"p":"d","s":"LiF/Al","x":710,"y":1.5},{"p":"d","s":"LiF/Al","x":720,"y":0.5},{"p":"d","s":"LiF/Al","x":730,"y":0},{"p":"d","s":"LiF/Al","x":740,"y":0},
{"p":"d","s":"Alq3/Al","x":300,"y":3.5},{"p":"d","s":"Alq3/Al","x":310,"y":4},{"p":"d","s":"Alq3/Al","x":320,"y":7},{"p":"d","s":"Alq3/Al","x":330,"y":14},{"p":"d","s":"Alq3/Al","x":340,"y":22},{"p":"d","s":"Alq3/Al","x":350,"y":27},{"p":"d","s":"Alq3/Al","x":360,"y":28.5},{"p":"d","s":"Alq3/Al","x":370,"y":27.5},{"p":"d","s":"Alq3/Al","x":380,"y":27.5},{"p":"d","s":"Alq3/Al","x":390,"y":27.5},{"p":"d","s":"Alq3/Al","x":400,"y":27.5},{"p":"d","s":"Alq3/Al","x":410,"y":28},{"p":"d","s":"Alq3/Al","x":420,"y":28.5},{"p":"d","s":"Alq3/Al","x":430,"y":29},{"p":"d","s":"Alq3/Al","x":440,"y":30},{"p":"d","s":"Alq3/Al","x":450,"y":30.5},{"p":"d","s":"Alq3/Al","x":460,"y":31},{"p":"d","s":"Alq3/Al","x":470,"y":30.5},{"p":"d","s":"Alq3/Al","x":480,"y":29.5},{"p":"d","s":"Alq3/Al","x":490,"y":28.5},{"p":"d","s":"Alq3/Al","x":500,"y":27.5},{"p":"d","s":"Alq3/Al","x":510,"y":26.5},{"p":"d","s":"Alq3/Al","x":520,"y":25.5},{"p":"d","s":"Alq3/Al","x":530,"y":24.5},{"p":"d","s":"Alq3/Al","x":540,"y":23.5},{"p":"d","s":"Alq3/Al","x":550,"y":22.5},{"p":"d","s":"Alq3/Al","x":560,"y":21.5},{"p":"d","s":"Alq3/Al","x":570,"y":20.5},{"p":"d","s":"Alq3/Al","x":580,"y":19},{"p":"d","s":"Alq3/Al","x":590,"y":18},{"p":"d","s":"Alq3/Al","x":600,"y":17},{"p":"d","s":"Alq3/Al","x":610,"y":16},{"p":"d","s":"Alq3/Al","x":620,"y":14.5},{"p":"d","s":"Alq3/Al","x":630,"y":12},{"p":"d","s":"Alq3/Al","x":640,"y":9},{"p":"d","s":"Alq3/Al","x":650,"y":6.5},{"p":"d","s":"Alq3/Al","x":660,"y":4.5},{"p":"d","s":"Alq3/Al","x":670,"y":3},{"p":"d","s":"Alq3/Al","x":680,"y":2},{"p":"d","s":"Alq3/Al","x":690,"y":1.5},{"p":"d","s":"Alq3/Al","x":700,"y":1},{"p":"d","s":"Alq3/Al","x":710,"y":0.5},{"p":"d","s":"Alq3/Al","x":720,"y":0},{"p":"d","s":"Alq3/Al","x":730,"y":0},{"p":"d","s":"Alq3/Al","x":740,"y":0},
{"p":"d","s":"BPhen/Al","x":300,"y":10},{"p":"d","s":"BPhen/Al","x":310,"y":7},{"p":"d","s":"BPhen/Al","x":320,"y":9},{"p":"d","s":"BPhen/Al","x":330,"y":15},{"p":"d","s":"BPhen/Al","x":340,"y":22},{"p":"d","s":"BPhen/Al","x":350,"y":29},{"p":"d","s":"BPhen/Al","x":360,"y":35},{"p":"d","s":"BPhen/Al","x":370,"y":40},{"p":"d","s":"BPhen/Al","x":380,"y":43.5},{"p":"d","s":"BPhen/Al","x":390,"y":46},{"p":"d","s":"BPhen/Al","x":400,"y":47},{"p":"d","s":"BPhen/Al","x":410,"y":47.5},{"p":"d","s":"BPhen/Al","x":420,"y":48},{"p":"d","s":"BPhen/Al","x":430,"y":48},{"p":"d","s":"BPhen/Al","x":440,"y":48.5},{"p":"d","s":"BPhen/Al","x":450,"y":49.5},{"p":"d","s":"BPhen/Al","x":460,"y":50.5},{"p":"d","s":"BPhen/Al","x":470,"y":51.5},{"p":"d","s":"BPhen/Al","x":480,"y":52.5},{"p":"d","s":"BPhen/Al","x":490,"y":53},{"p":"d","s":"BPhen/Al","x":500,"y":53},{"p":"d","s":"BPhen/Al","x":510,"y":52.5},{"p":"d","s":"BPhen/Al","x":520,"y":52},{"p":"d","s":"BPhen/Al","x":530,"y":51.5},{"p":"d","s":"BPhen/Al","x":540,"y":51},{"p":"d","s":"BPhen/Al","x":550,"y":50.5},{"p":"d","s":"BPhen/Al","x":560,"y":49.5},{"p":"d","s":"BPhen/Al","x":570,"y":48},{"p":"d","s":"BPhen/Al","x":580,"y":46.5},{"p":"d","s":"BPhen/Al","x":590,"y":45},{"p":"d","s":"BPhen/Al","x":600,"y":44},{"p":"d","s":"BPhen/Al","x":610,"y":42.5},{"p":"d","s":"BPhen/Al","x":620,"y":38},{"p":"d","s":"BPhen/Al","x":630,"y":30},{"p":"d","s":"BPhen/Al","x":640,"y":22},{"p":"d","s":"BPhen/Al","x":650,"y":15},{"p":"d","s":"BPhen/Al","x":660,"y":10},{"p":"d","s":"BPhen/Al","x":670,"y":7.5},{"p":"d","s":"BPhen/Al","x":680,"y":6},{"p":"d","s":"BPhen/Al","x":690,"y":4.5},{"p":"d","s":"BPhen/Al","x":700,"y":3},{"p":"d","s":"BPhen/Al","x":710,"y":2},{"p":"d","s":"BPhen/Al","x":720,"y":1},{"p":"d","s":"BPhen/Al","x":730,"y":0},{"p":"d","s":"BPhen/Al","x":740,"y":0},
{"p":"d","s":"BCP/AL","x":300,"y":5},{"p":"d","s":"BCP/AL","x":310,"y":9},{"p":"d","s":"BCP/AL","x":320,"y":17},{"p":"d","s":"BCP/AL","x":330,"y":25},{"p":"d","s":"BCP/AL","x":340,"y":32},{"p":"d","s":"BCP/AL","x":350,"y":36.5},{"p":"d","s":"BCP/AL","x":360,"y":39.5},{"p":"d","s":"BCP/AL","x":370,"y":42},{"p":"d","s":"BCP/AL","x":380,"y":44.5},{"p":"d","s":"BCP/AL","x":390,"y":46.5},{"p":"d","s":"BCP/AL","x":400,"y":48.5},{"p":"d","s":"BCP/AL","x":410,"y":50.5},{"p":"d","s":"BCP/AL","x":420,"y":52.5},{"p":"d","s":"BCP/AL","x":430,"y":54.5},{"p":"d","s":"BCP/AL","x":440,"y":56},{"p":"d","s":"BCP/AL","x":450,"y":57.5},{"p":"d","s":"BCP/AL","x":460,"y":59},{"p":"d","s":"BCP/AL","x":470,"y":60},{"p":"d","s":"BCP/AL","x":480,"y":60},{"p":"d","s":"BCP/AL","x":490,"y":60},{"p":"d","s":"BCP/AL","x":500,"y":59},{"p":"d","s":"BCP/AL","x":510,"y":58},{"p":"d","s":"BCP/AL","x":520,"y":57},{"p":"d","s":"BCP/AL","x":530,"y":56.5},{"p":"d","s":"BCP/AL","x":540,"y":56},{"p":"d","s":"BCP/AL","x":550,"y":55},{"p":"d","s":"BCP/AL","x":560,"y":53.5},{"p":"d","s":"BCP/AL","x":570,"y":52},{"p":"d","s":"BCP/AL","x":580,"y":50.5},{"p":"d","s":"BCP/AL","x":590,"y":49},{"p":"d","s":"BCP/AL","x":600,"y":48.5},{"p":"d","s":"BCP/AL","x":610,"y":47.5},{"p":"d","s":"BCP/AL","x":620,"y":45},{"p":"d","s":"BCP/AL","x":630,"y":40},{"p":"d","s":"BCP/AL","x":640,"y":33},{"p":"d","s":"BCP/AL","x":650,"y":25},{"p":"d","s":"BCP/AL","x":660,"y":18},{"p":"d","s":"BCP/AL","x":670,"y":12},{"p":"d","s":"BCP/AL","x":680,"y":9},{"p":"d","s":"BCP/AL","x":690,"y":7.5},{"p":"d","s":"BCP/AL","x":700,"y":6},{"p":"d","s":"BCP/AL","x":710,"y":4.5},{"p":"d","s":"BCP/AL","x":720,"y":3.5},{"p":"d","s":"BCP/AL","x":730,"y":2.5},{"p":"d","s":"BCP/AL","x":740,"y":2}
]},
"columns":2,
"bounds":"flush",
"spacing":{"row":69,"column":81},
"resolve":{"scale":{"x":"independent","y":"independent","color":"independent","stroke":"independent","shape":"independent"},"legend":{"color":"independent"}},
"concat":[
{"width":289,"height":238,
"layer":[
{"data":{"name":"d"},"transform":[{"filter":"datum.p === 'a'"}],"mark":{"type":"line","strokeWidth":9.5,"clip":true},"encoding":{"x":{"field":"x","type":"quantitative","scale":{"domain":[300,745],"nice":false,"zero":false},"axis":{"title":"Wavelength (nm)"}},"y":{"field":"y","type":"quantitative","scale":{"domain":[0,70],"nice":false},"axis":{"title":"EQE (%)"}},"stroke":{"field":"s","type":"nominal","scale":{"domain":["1:1.2","1:1.0","1:0.8","1:0.6"],"range":["#ff00ff","#0000ff","#ff0000","#000000"]},"legend":null}}},
{"data":{"name":"d"},"transform":[{"filter":"datum.p === 'a'"}],"mark":{"type":"point","filled":true,"size":90,"opacity":1,"clip":true},"encoding":{"x":{"field":"x","type":"quantitative","axis":{"title":"Wavelength (nm)"}},"y":{"field":"y","type":"quantitative","axis":{"title":"EQE (%)"}},"color":{"field":"s","type":"nominal","scale":{"domain":["1:0.6","1:0.8","1:1.0","1:1.2"],"range":["#000000","#ff0000","#0000ff","#ff00ff"]},"legend":{"orient":"none","legendX":88,"legendY":133,"title":null,"symbolType":"square"}},"shape":{"field":"s","type":"nominal","scale":{"domain":["1:0.8","1:1.0","1:1.2","1:0.6"],"range":["square","triangle-up","square","square"]},"legend":null}}},
{"data":{"values":[{"n":1}]},"mark":{"type":"text","align":"left","baseline":"middle","fontSize":23},"encoding":{"x":{"datum":309,"axis":{"title":"Wavelength (nm)"}},"y":{"datum":64,"axis":{"title":"EQE (%)"}},"text":{"value":"At Room Temperature"}}},
{"data":{"values":[{"n":1}]},"mark":{"type":"text","align":"left","baseline":"middle","fontSize":17,"lineHeight":21},"encoding":{"x":{"datum":554,"axis":{"title":"Wavelength (nm)"}},"y":{"datum":56.2,"axis":{"title":"EQE (%)"}},"text":{"value":["Cathode Contact:","LiF/Al"]}}},
{"data":{"values":[{"n":1}]},"mark":{"type":"text","align":"center","baseline":"middle","fontSize":27},"encoding":{"x":{"datum":697,"axis":{"title":"Wavelength (nm)"}},"y":{"datum":29.7,"axis":{"title":"EQE (%)"}},"text":{"value":"(a)"}}}
]},
{"width":284,"height":238,
"layer":[
{"data":{"name":"d"},"transform":[{"filter":"datum.p === 'b'"}],"mark":{"type":"line","strokeWidth":9.5,"clip":true},"encoding":{"x":{"field":"x","type":"quantitative","scale":{"domain":[300,742],"nice":false,"zero":false},"axis":{"title":"Wavelength (nm)"}},"y":{"field":"y","type":"quantitative","scale":{"domain":[0,70],"nice":false},"axis":{"title":"EQE (%)"}},"stroke":{"field":"s","type":"nominal","scale":{"domain":["at 175°C","at 150°C","at 125°C","at 100°C"],"range":["#ff00ff","#0000ff","#ff0000","#000000"]},"legend":null}}},
{"data":{"name":"d"},"transform":[{"filter":"datum.p === 'b'"}],"mark":{"type":"point","filled":true,"size":90,"opacity":1,"clip":true},"encoding":{"x":{"field":"x","type":"quantitative","axis":{"title":"Wavelength (nm)"}},"y":{"field":"y","type":"quantitative","axis":{"title":"EQE (%)"}},"color":{"field":"s","type":"nominal","scale":{"domain":["at 100°C","at 125°C","at 150°C","at 175°C"],"range":["#000000","#ff0000","#0000ff","#ff00ff"]},"legend":{"orient":"none","legendX":70,"legendY":141,"title":null,"symbolType":"square"}},"shape":{"field":"s","type":"nominal","scale":{"domain":["at 125°C","at 150°C","at 175°C","at 100°C"],"range":["square","triangle-up","square","square"]},"legend":null}}},
{"data":{"values":[{"n":1}]},"mark":{"type":"text","align":"left","baseline":"middle","fontSize":23,"lineHeight":28},"encoding":{"x":{"datum":308,"axis":{"title":"Wavelength (nm)"}},"y":{"datum":66.2,"axis":{"title":"EQE (%)"}},"text":{"value":["At Constant Molar","Mass Concentration, 1:0.8"]}}},
{"data":{"values":[{"n":1}]},"mark":{"type":"text","align":"right","baseline":"middle","fontSize":17,"lineHeight":19},"encoding":{"x":{"datum":741,"axis":{"title":"Wavelength (nm)"}},"y":{"datum":49.4,"axis":{"title":"EQE (%)"}},"text":{"value":["Cathode Contact:","LiF/Al"]}}},
{"data":{"values":[{"n":1}]},"mark":{"type":"text","align":"center","baseline":"middle","fontSize":27},"encoding":{"x":{"datum":703,"axis":{"title":"Wavelength (nm)"}},"y":{"datum":26.2,"axis":{"title":"EQE (%)"}},"text":{"value":"(b)"}}}
]},
{"width":289,"height":243,
"layer":[
{"data":{"name":"d"},"transform":[{"filter":"datum.p === 'c'"}],"mark":{"type":"line","strokeWidth":9.5,"clip":true},"encoding":{"x":{"field":"x","type":"quantitative","scale":{"domain":[300,745],"nice":false,"zero":false},"axis":{"title":"Wavelength (nm)"}},"y":{"field":"y","type":"quantitative","scale":{"domain":[0,70],"nice":false},"axis":{"title":"EQE (%)"}},"stroke":{"field":"s","type":"nominal","scale":{"domain":["1:1.2","1:1.0","1:0.8","1:0.6"],"range":["#ff00ff","#0000ff","#ff0000","#000000"]},"legend":null}}},
{"data":{"name":"d"},"transform":[{"filter":"datum.p === 'c'"}],"mark":{"type":"point","filled":true,"size":90,"opacity":1,"clip":true},"encoding":{"x":{"field":"x","type":"quantitative","axis":{"title":"Wavelength (nm)"}},"y":{"field":"y","type":"quantitative","axis":{"title":"EQE (%)"}},"color":{"field":"s","type":"nominal","scale":{"domain":["1:0.6","1:0.8","1:1.0","1:1.2"],"range":["#000000","#ff0000","#0000ff","#ff00ff"]},"legend":{"orient":"none","legendX":88,"legendY":138,"title":null,"symbolType":"square"}},"shape":{"field":"s","type":"nominal","scale":{"domain":["1:0.8","1:1.0","1:1.2","1:0.6"],"range":["square","triangle-up","square","square"]},"legend":null}}},
{"data":{"values":[{"n":1}]},"mark":{"type":"text","align":"left","baseline":"middle","fontSize":23,"lineHeight":30},"encoding":{"x":{"datum":308,"axis":{"title":"Wavelength (nm)"}},"y":{"datum":65.1,"axis":{"title":"EQE (%)"}},"text":{"value":["At Constant Annealing","Temperature, 150°C"]}}},
{"data":{"values":[{"n":1}]},"mark":{"type":"text","align":"right","baseline":"middle","fontSize":17,"lineHeight":21},"encoding":{"x":{"datum":732,"axis":{"title":"Wavelength (nm)"}},"y":{"datum":50.7,"axis":{"title":"EQE (%)"}},"text":{"value":["Cathode Contact:","LiF/Al"]}}},
{"data":{"values":[{"n":1}]},"mark":{"type":"text","align":"center","baseline":"middle","fontSize":27},"encoding":{"x":{"datum":697,"axis":{"title":"Wavelength (nm)"}},"y":{"datum":27.4,"axis":{"title":"EQE (%)"}},"text":{"value":"(c)"}}}
]},
{"width":284,"height":243,
"layer":[
{"data":{"name":"d"},"transform":[{"filter":"datum.p === 'd'"}],"mark":{"type":"line","strokeWidth":9.5,"clip":true},"encoding":{"x":{"field":"x","type":"quantitative","scale":{"domain":[300,742],"nice":false,"zero":false},"axis":{"title":"Wavelength (nm)"}},"y":{"field":"y","type":"quantitative","scale":{"domain":[0,75],"nice":false},"axis":{"title":"EQE (%)"}},"stroke":{"field":"s","type":"nominal","scale":{"domain":["BCP/AL","BPhen/Al","Alq3/Al","LiF/Al","Ca/Al"],"range":["#008000","#ff00ff","#0000ff","#ff0000","#000000"]},"legend":null}}},
{"data":{"name":"d"},"transform":[{"filter":"datum.p === 'd'"}],"mark":{"type":"point","filled":true,"size":90,"opacity":1,"clip":true},"encoding":{"x":{"field":"x","type":"quantitative","axis":{"title":"Wavelength (nm)"}},"y":{"field":"y","type":"quantitative","axis":{"title":"EQE (%)"}},"color":{"field":"s","type":"nominal","scale":{"domain":["Ca/Al","LiF/Al","Alq3/Al","BPhen/Al","BCP/AL"],"range":["#000000","#ff0000","#0000ff","#ff00ff","#008000"]},"legend":{"orient":"none","legendX":35,"legendY":190,"title":null,"columns":2,"columnPadding":-6,"symbolType":"square"}},"shape":{"field":"s","type":"nominal","scale":{"domain":["LiF/Al","Alq3/Al","BPhen/Al","BCP/AL","Ca/Al"],"range":["square","triangle-up","square","diamond","square"]},"legend":null}}},
{"data":{"values":[{"n":1}]},"mark":{"type":"text","align":"left","baseline":"middle","fontSize":14.5,"lineHeight":19},"encoding":{"x":{"datum":308,"axis":{"title":"Wavelength (nm)"}},"y":{"datum":72.2,"axis":{"title":"EQE (%)"}},"text":{"value":["At Constant Molar Mass Concentration,1:0.8","and AnnealingTemperature, 150°C"]}}},
{"data":{"values":[{"n":1}]},"mark":{"type":"text","align":"center","baseline":"middle","fontSize":27},"encoding":{"x":{"datum":698,"axis":{"title":"Wavelength (nm)"}},"y":{"datum":52.2,"axis":{"title":"EQE (%)"}},"text":{"value":"(d)"}}}
]}
],
"config":{
"font":"Times New Roman, Liberation Serif, serif",
"view":{"stroke":"#000000","strokeWidth":1.2},
"axis":{"grid":false,"domainColor":"#000000","domainWidth":1.2,"tickColor":"#000000","tickSize":-5,"tickWidth":1,"labelColor":"#000000","titleColor":"#000000","labelFont":"Times New Roman, Liberation Serif, serif","titleFont":"Times New Roman, Liberation Serif, serif","labelFontSize":27,"titleFontSize":28,"titleFontWeight":"normal","labelPadding":4,"titlePadding":2,"labelFlush":false,"labelOverlap":false},
"axisX":{"labelPadding":7,"titlePadding":0,"tickCount":9,"labelExpr":"datum.value % 100 === 0 ? datum.label : ''"},
"axisY":{"titlePadding":14,"tickCount":14,"labelExpr":"datum.value % 10 === 0 ? datum.label : ''"},
"legend":{"symbolType":"square","symbolSize":170,"symbolStrokeWidth":0,"labelFont":"Times New Roman, Liberation Serif, serif","labelFontSize":16,"labelColor":"#000000","rowPadding":0,"labelOffset":6},
"text":{"font":"Times New Roman, Liberation Serif, serif","color":"#000000"}
}
}
